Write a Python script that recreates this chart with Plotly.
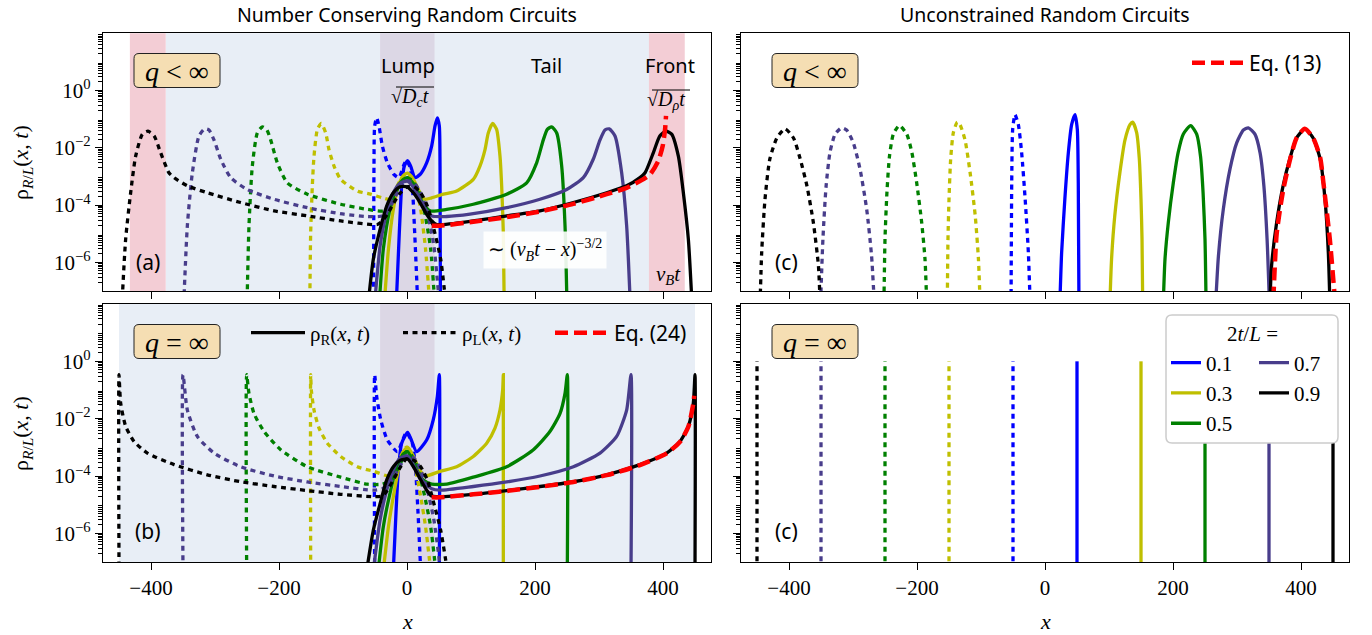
import plotly.graph_objects as go

W, H = 1372, 635

# ---------------- data ----------------
TIMES = ["0.1", "0.3", "0.5", "0.7", "0.9"]          # 2t/L
COLORS = ["#0000ff", "#bfbf00", "#008000", "#483d8b", "#000000"]
X_TICKS = [-400, -200, 0, 200, 400]
X_TICK_TEXT = ["\u2212400", "\u2212200", "0", "200", "400"]
Y_TICKS = [1e-6, 1e-4, 1e-2, 1]
Y_TICK_TEXT = ["10<sup>\u22126</sup>", "10<sup>\u22124</sup>", "10<sup>\u22122</sup>", "10<sup>0</sup>"]

# Panel (a): number conserving, q < inf, rho_R(x,t)   (rho_L(x,t) = rho_R(-x,t))
A_X = {
    "0.1": [-16.5, -12, -8.3, -4.2, 1, 5.7, 12.5, 20.3, 30.7, 38.5, 43.8, 47.4, 50.5, 51.6, 52.2],
    "0.3": [-35, -29, -21.4, -13.5, -5.7, 1, 10, 20.3, 28, 38.5, 56.8, 77.6, 103.6, 114, 121.9, 127,
            133.9, 140, 145.3, 147.9, 150.5, 151.8],
    "0.5": [-43, -37, -26.6, -16, -5.7, 1, 12.5, 23, 36, 62, 103.6, 155.7, 187, 202.6, 213, 219.3, 226,
            233.9, 241.7, 246.9, 249.8],
    "0.7": [-50, -42, -31.8, -21.4, -11, 1, 12.5, 25.5, 38.5, 62, 98.4, 155.7, 207.8, 249.5, 275.5, 291,
            301.6, 309.4, 316, 325, 335.4, 343.2, 348.6],
    "0.9": [-60, -52.6, -42, -31.8, -21.4, -11, -0.5, 10, 20.3, 30.7, 38.5, 46.4, 103.6, 155.7, 207.8, 260,
            312, 343, 364, 372, 385, 395, 404.7, 413.5, 424, 431.8, 439.6, 445],
}
A_Y = {
    "0.1": [5e-8, 1.1e-5, 4.7e-4, 2.3e-3, 3.6e-3, 2.3e-3, 9.1e-4, 1.17e-3, 3.0e-3, 1.15e-2, 5.8e-2, 0.112,
            5.8e-2, 2.3e-3, 5e-8],
    "0.3": [5e-8, 2.9e-6, 7.1e-5, 4.7e-4, 1.05e-3, 1.3e-3, 7.9e-4, 2.7e-4, 1.6e-4, 1.8e-4, 2.4e-4, 3.1e-4,
            7.9e-4, 2.3e-3, 8.7e-3, 3.3e-2, 7.1e-2, 4.4e-2, 5.1e-3, 4.7e-4, 1.1e-5, 5e-8],
    "0.5": [5e-8, 2.9e-6, 7.1e-5, 4.1e-4, 7.9e-4, 9.1e-4, 4.7e-4, 1.38e-4, 6.3e-5, 7.1e-5, 1.07e-4, 2.4e-4,
            6.0e-4, 3.0e-3, 1.9e-2, 4.4e-2, 5.4e-2, 3.3e-2, 2.3e-3, 1.9e-5, 5e-8],
    "0.7": [5e-8, 3.8e-6, 5.5e-5, 2.7e-4, 5.8e-4, 6.9e-4, 3.5e-4, 9.3e-5, 4.2e-5, 4.0e-5, 4.8e-5, 8.1e-5,
            1.6e-4, 3.5e-4, 9.1e-4, 4.0e-3, 1.9e-2, 4.2e-2, 4.6e-2, 2.6e-2, 1.35e-3, 1.9e-5, 5e-8],
    "0.9": [5e-8, 1.3e-6, 1.45e-5, 9.3e-5, 2.7e-4, 4.4e-4, 4.4e-4, 2.7e-4, 1.23e-4, 4.8e-5, 2.8e-5, 2.1e-5,
            2.8e-5, 4.2e-5, 6.3e-5, 1.23e-4, 2.7e-4, 4.7e-4, 9.1e-4, 1.35e-3, 6.8e-3, 2.6e-2, 3.8e-2, 3.0e-2,
            5.1e-3, 2.7e-4, 6.5e-6, 5e-8],
}
A_EQ24_X = [38.5, 51.6, 103.6, 155.7, 207.8, 260, 312, 343, 364, 379.7, 392.7, 399.5, 403.2, 404.7]
A_EQ24_Y = [1.9e-5, 1.9e-5, 2.6e-5, 3.8e-5, 6.0e-5, 1.1e-4, 2.4e-4, 4.0e-4, 6.9e-4, 1.17e-3, 3.5e-3,
            1.15e-2, 4.4e-2, 0.13]

# Panel (b): number conserving, q = inf, rho_R(x,t)
B_X = {
    "0.1": [-21.4, -17, -13.5, -8.3, 1, 6, 15, 30.7, 41, 47.4, 50.5, 50.5],
    "0.3": [-37, -29, -21.4, -13.5, -5.7, 1, 10, 20, 28, 51.6, 77.6, 103.6, 124.5, 137.5, 145.3, 149.5,
            150.5, 150.5],
    "0.5": [-45, -37, -26.6, -16, -5.7, 1, 12.5, 25.5, 38.5, 62, 103.6, 155.7, 197, 223, 239, 247, 250.5,
            250.5],
    "0.7": [-52.6, -42, -31.8, -21.4, -11, 1, 12.5, 25.5, 38.5, 51.6, 103.6, 155.7, 207.8, 260, 301.6,
            327.6, 343.2, 350, 350],
    "0.9": [-63, -52.6, -42, -31.8, -21.4, -11, 1, 10, 20, 30.7, 38.5, 51.6, 103.6, 155.7, 207.8, 260, 312,
            364, 405.7, 426.5, 439.6, 447.4, 450, 450],
}
B_Y = {
    "0.1": [5e-8, 6.5e-6, 1.6e-4, 1.4e-3, 3.3e-3, 2.0e-3, 7.1e-4, 1.8e-3, 9.1e-3, 6.0e-2, 0.34, 5e-8],
    "0.3": [5e-8, 1.7e-6, 1.9e-5, 1.6e-4, 7.1e-4, 1.02e-3, 4.8e-4, 1.6e-4, 1.0e-4, 1.45e-4, 2.1e-4, 4.8e-4,
            1.4e-3, 4.7e-3, 2.0e-2, 0.10, 0.34, 5e-8],
    "0.5": [5e-8, 1.7e-6, 2.5e-5, 2.1e-4, 5.9e-4, 7.1e-4, 2.1e-4, 7.2e-5, 5.2e-5, 5.2e-5, 9.1e-5, 2.1e-4,
            8.1e-4, 3.5e-3, 1.5e-2, 7.8e-2, 0.34, 5e-8],
    "0.7": [5e-8, 3.0e-6, 3.2e-5, 1.6e-4, 4.2e-4, 5.0e-4, 1.9e-4, 6.3e-5, 3.6e-5, 3.2e-5, 4.3e-5, 6.2e-5,
            1.0e-4, 2.1e-4, 6.3e-4, 2.4e-3, 2.0e-2, 0.34, 5e-8],
    "0.9": [5e-8, 1.3e-6, 1.1e-5, 7.2e-5, 2.1e-4, 3.5e-4, 3.9e-4, 2.1e-4, 8.3e-5, 3.2e-5, 2.0e-5, 1.9e-5,
            2.3e-5, 3.1e-5, 4.3e-5, 6.3e-5, 1.1e-4, 2.5e-4, 6.3e-4, 1.6e-3, 5.4e-3, 3.5e-2, 0.34, 5e-8],
}
B_EQ24_X = [38.5, 51.6, 103.6, 155.7, 207.8, 260, 312, 364, 405.7, 426.5, 439.6, 447.4, 448.8]
B_EQ24_Y = [1.8e-5, 1.8e-5, 2.3e-5, 3.0e-5, 4.2e-5, 6.2e-5, 1.07e-4, 2.4e-4, 6.2e-4, 1.55e-3, 5.2e-3,
            3.4e-2, 6.3e-2]

# Panel (c, top): unconstrained, q < inf, rho_R(x,t)
C_X = {
    "0.1": [23.4, 26, 31, 36.5, 41.7, 46.9, 50.5, 52, 53],
    "0.3": [101.6, 104, 109, 117, 125, 133, 137, 143.2, 147.4, 150, 151.6, 152.6],
    "0.5": [185, 187.5, 192.7, 200.5, 208, 216, 227.6, 237, 243, 247, 250, 251.6],
    "0.7": [267, 271, 278.6, 289, 299.5, 310, 317.7, 328, 336, 342, 347, 350.5],
    "0.9": [351.6, 354, 362, 372, 383, 393, 406, 419, 430, 437.5, 442.7, 445],
}
C_Y = {
    "0.1": [5e-8, 2.2e-6, 1.6e-4, 6.8e-3, 6.6e-2, 0.145, 4.4e-2, 6.0e-4, 5e-8],
    "0.3": [5e-8, 1.3e-6, 4.2e-5, 1.35e-3, 1.9e-2, 6.6e-2, 7.9e-2, 3.4e-2, 4.0e-3, 1.6e-4, 6.5e-6, 5e-8],
    "0.5": [5e-8, 1.3e-6, 2.5e-5, 6.0e-4, 6.8e-3, 3.0e-2, 6.0e-2, 3.0e-2, 5.1e-3, 2.7e-4, 6.5e-6, 5e-8],
    "0.7": [5e-8, 1.7e-6, 7.1e-5, 1.8e-3, 1.5e-2, 4.2e-2, 5.0e-2, 3.0e-2, 6.8e-3, 4.7e-4, 6.5e-6, 5e-8],
    "0.9": [5e-8, 7.6e-7, 2.5e-5, 4.7e-4, 4.5e-3, 2.2e-2, 4.6e-2, 2.2e-2, 4.0e-3, 1.6e-4, 2.2e-6, 5e-8],
}
C_EQ13_X = [356.8, 362, 372, 383, 393, 406, 419, 430, 435, 445, 453]
C_EQ13_Y = [5e-8, 1.0e-5, 3.2e-4, 4.0e-3, 2.2e-2, 4.6e-2, 2.2e-2, 4.5e-3, 6.0e-4, 6.5e-6, 5e-8]

# Panel (c, bottom): unconstrained, q = inf -> sharp fronts at x = +-v t
D_FRONT_X = {"0.1": 50, "0.3": 150, "0.5": 250, "0.7": 350, "0.9": 450}
D_FRONT_TOP = 1.0
D_FRONT_BOTTOM = 5e-8

# shaded regions (x extents)
A_TAIL = [-377, 378]
A_FRONTS = [[-433, -377], [378, 434]]
B_TAIL = [-450, 450]
LUMP = [-42, 43]

# ---------------- styling ----------------
SERIF = "Liberation Serif"
SANS = "Noto Sans"
LW = 3.3
DOT = "5px,4.5px"
RED_DASH = "13px,6px"
C_TAILBG = "#e8eef6"
C_FRONTBG = "#f3cdd5"
C_LUMPBG = "#dcd7e5"
C_BOX = "#f5deb3"
SMOOTH = 0.6

# panel pixel boxes: (left, top, right, bottom)
PANELS = {
    "a": (103, 33.3, 711, 291),
    "b": (103, 304, 711, 562),
    "c": (741, 33.3, 1349, 291),
    "d": (741, 304, 1349, 562),
}


def px(x):
    return x / W


def py(y):
    return 1 - y / H


fig = go.Figure()


def line(xs, ys, color, dash, ax, width=LW, smooth=None, **kw):
    ln = dict(color=color, width=width, dash=dash)
    if smooth:
        ln.update(shape="spline", smoothing=smooth)
    fig.add_trace(go.Scatter(x=xs, y=ys, mode="lines", xaxis="x" + ax, yaxis="y" + ax, line=ln,
                             hoverinfo="skip", showlegend=kw.pop("showlegend", False), **kw))


COLUMN = {"0.1": "legend", "0.3": "legend", "0.5": "legend", "0.7": "legend4", "0.9": "legend4"}

for t, c in zip(TIMES, COLORS):
    line(A_X[t], A_Y[t], c, "solid", "", smooth=SMOOTH)
    line([-v for v in A_X[t]], A_Y[t], c, DOT, "", smooth=SMOOTH)
for t, c in zip(TIMES, COLORS):
    line(B_X[t], B_Y[t], c, "solid", "2", smooth=SMOOTH)
    line([-v for v in B_X[t]], B_Y[t], c, DOT, "2", smooth=SMOOTH)
for t, c in zip(TIMES, COLORS):
    line(C_X[t], C_Y[t], c, "solid", "3", smooth=SMOOTH)
    line([-v for v in C_X[t]], C_Y[t], c, DOT, "3", smooth=SMOOTH)
for t, c in zip(TIMES, COLORS):
    xf = D_FRONT_X[t]
    line([xf, xf], [D_FRONT_BOTTOM, D_FRONT_TOP], c, "solid", "4",
         showlegend=True, name=t, legend=COLUMN[t], legendgroup="g" + t)
    line([-xf, -xf], [D_FRONT_BOTTOM, D_FRONT_TOP], c, DOT, "4")

line(A_EQ24_X, A_EQ24_Y, "#ff0000", RED_DASH, "", width=4.5, smooth=SMOOTH)
line(B_EQ24_X, B_EQ24_Y, "#ff0000", RED_DASH, "2", width=4.5, smooth=SMOOTH, showlegend=True,
     name="<span style='font-family:%s'>Eq. (24)</span>" % SANS, legend="legend2", legendrank=3)
line(C_EQ13_X, C_EQ13_Y, "#ff0000", RED_DASH, "3", width=4.5, smooth=SMOOTH, showlegend=True,
     name="<span style='font-family:%s'>Eq. (13)</span>" % SANS, legend="legend3")
# legend-only entries
line([None], [None], "#000000", "solid", "2", showlegend=True,
     name="\u03c1<sub>R</sub>(<i>x</i>, <i>t</i>)", legend="legend2", legendrank=1)
line([None], [None], "#000000", DOT, "2", showlegend=True,
     name="\u03c1<sub>L</sub>(<i>x</i>, <i>t</i>)", legend="legend2", legendrank=2)

# ---------------- axes ----------------
MINOR = [k * 10.0 ** n for n in range(-8, 3) for k in range(2, 10)]
common = dict(showline=True, linecolor="black", linewidth=1.2, mirror=True, ticks="outside",
              ticklen=7, tickwidth=1.2, tickcolor="black", showgrid=False, zeroline=False,
              tickfont=dict(family=SERIF, size=21, color="black"))
layout = dict(width=W, height=H, margin=dict(l=0, r=0, t=0, b=0), plot_bgcolor="white",
              paper_bgcolor="white", showlegend=True)
for i, key in enumerate(["a", "b", "c", "d"]):
    l, t, r, b = PANELS[key]
    sfx = "" if i == 0 else str(i + 1)
    layout["xaxis" + sfx] = dict(common, domain=[px(l), px(r)], range=[-475, 475],
                                 tickvals=X_TICKS, ticktext=X_TICK_TEXT,
                                 showticklabels=key in ("b", "d"), anchor="y" + sfx)
    layout["yaxis" + sfx] = dict(common, domain=[py(b), py(t)], type="log", range=[-7, 2.0],
                                 tickvals=Y_TICKS, ticktext=Y_TICK_TEXT,
                                 showticklabels=key in ("a", "b"), anchor="x" + sfx,
                                 minor=dict(tickmode="array", tickvals=MINOR, ticks="outside",
                                            ticklen=3.5, tickwidth=1, tickcolor="black"))
fig.update_layout(**layout)

# ---------------- shaded regions ----------------
shapes = []


def vband(x0, x1, ax, color):
    shapes.append(dict(type="rect", xref="x" + ax, yref="y" + ax + " domain", x0=x0, x1=x1,
                       y0=0, y1=1, fillcolor=color, line=dict(width=0), layer="below"))


vband(A_TAIL[0], A_TAIL[1], "", C_TAILBG)
for f in A_FRONTS:
    vband(f[0], f[1], "", C_FRONTBG)
vband(LUMP[0], LUMP[1], "", C_LUMPBG)
vband(B_TAIL[0], B_TAIL[1], "2", C_TAILBG)
vband(LUMP[0], LUMP[1], "2", C_LUMPBG)


def rbox(x0, y0, x1, y1, r=5, fill=C_BOX, edge="#222222", ew=1):
    X = px
    Y = py
    p = (f"M {X(x0 + r)},{Y(y0)} L {X(x1 - r)},{Y(y0)} Q {X(x1)},{Y(y0)} {X(x1)},{Y(y0 + r)} "
         f"L {X(x1)},{Y(y1 - r)} Q {X(x1)},{Y(y1)} {X(x1 - r)},{Y(y1)} L {X(x0 + r)},{Y(y1)} "
         f"Q {X(x0)},{Y(y1)} {X(x0)},{Y(y1 - r)} L {X(x0)},{Y(y0 + r)} Q {X(x0)},{Y(y0)} {X(x0 + r)},{Y(y0)} Z")
    shapes.append(dict(type="path", xref="paper", yref="paper", path=p, fillcolor=fill,
                       line=dict(color=edge, width=ew), layer="above"))


def hbar(x0, x1, y):
    shapes.append(dict(type="line", xref="paper", yref="paper", x0=px(x0), x1=px(x1), y0=py(y),
                       y1=py(y), line=dict(color="black", width=1), layer="above"))


for (cx, cy) in [(177, 70.5), (177, 341.5), (815, 70.5), (815, 341.5)]:
    rbox(cx - 43, cy - 17, cx + 43, cy + 17)
# frame of the 2t/L legend
rbox(1166, 315, 1338, 443, r=6, fill="white", edge="#cccccc", ew=1.5)
# radical bars for sqrt(D_c t), sqrt(D_rho t)
hbar(396, 434, 87)
hbar(652, 690, 90)
fig.update_layout(shapes=shapes)

# ---------------- texts ----------------
ann = []


def text(x, y, s, family=SERIF, size=20, angle=0, **kw):
    ann.append(dict(x=px(x), y=py(y), xref="paper", yref="paper", text=s, showarrow=False,
                    font=dict(family=family, size=size, color="black"), textangle=angle,
                    xanchor="center", yanchor="middle", **kw))


text(407, 14, "Number Conserving Random Circuits", SANS, 19.5)
text(1045, 14, "Unconstrained Random Circuits", SANS, 19.5)
RHO = "\u03c1<sub><i>R</i>/<i>L</i></sub>(<i>x</i>, <i>t</i>)"
text(22, 163, RHO, SERIF, 22, angle=-90)
text(22, 434, RHO, SERIF, 22, angle=-90)
text(407, 621, "<i>x</i>", SERIF, 22)
text(1045, 621, "<i>x</i>", SERIF, 22)
for (cx, cy, s) in [(177, 70.5, "<i>q</i> &lt; \u221e"), (177, 341.5, "<i>q</i> = \u221e"),
                    (815, 70.5, "<i>q</i> &lt; \u221e"), (815, 341.5, "<i>q</i> = \u221e")]:
    text(cx, cy + 1, s, SERIF, 28)
text(148, 262, "(a)", SANS, 21)
text(148, 531, "(b)", SANS, 21)
text(786, 262, "(c)", SANS, 21)
text(786, 531, "(c)", SANS, 21)
text(408, 65, "Lump", SANS, 20)
text(410, 98, "\u221a<i>D<sub>c</sub>t</i>", SERIF, 20)
text(546, 65, "Tail", SANS, 20)
text(670, 65, "Front", SANS, 20)
text(666, 101, "\u221a<i>D<sub>\u03c1</sub>t</i>", SERIF, 20)
text(545, 250, "\u223c (<i>v<sub>B</sub>t</i> \u2212 <i>x</i>)<sup>\u22123/2</sup>", SERIF, 20,
     bgcolor="rgba(255,255,255,0.9)", borderpad=4)
text(668, 275, "<i>v<sub>B</sub>t</i>", SERIF, 21)
text(1252, 334, "2<i>t</i>/<i>L</i> =", SERIF, 21)
fig.update_layout(annotations=ann)

# ---------------- legends ----------------
LEGFONT = dict(family=SERIF, size=21, color="black")
fig.update_layout(
    legend=dict(x=px(1166), y=py(393), xanchor="left", yanchor="middle", orientation="v",
                bgcolor="rgba(0,0,0,0)", borderwidth=0, tracegroupgap=0, font=LEGFONT),
    legend4=dict(x=px(1254), y=py(378), xanchor="left", yanchor="middle", orientation="v",
                 bgcolor="rgba(0,0,0,0)", borderwidth=0, tracegroupgap=0, font=LEGFONT),
    legend2=dict(x=px(246), y=py(333), xanchor="left", yanchor="middle", orientation="h",
                 bgcolor="rgba(0,0,0,0)", borderwidth=0, itemwidth=54,
                 entrywidth=83, entrywidthmode="pixels",
                 font=dict(family=SERIF, size=21, color="black")),
    legend3=dict(x=px(1187), y=py(63), xanchor="left", yanchor="middle", orientation="h",
                 bgcolor="rgba(0,0,0,0)", borderwidth=0, itemwidth=52,
                 font=dict(family=SANS, size=21, color="black")),
)

fig.write_html("out.html", config={"displayModeBar": False},
               post_script="document.body.style.margin='0';")
